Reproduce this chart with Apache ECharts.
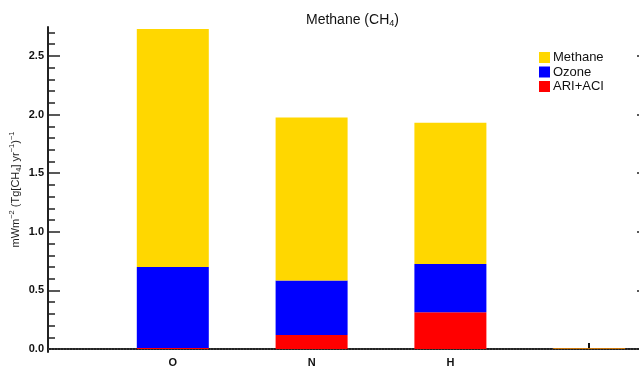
<!DOCTYPE html>
<html><head><meta charset="utf-8">
<script src="https://cdn.jsdelivr.net/npm/echarts@6/dist/echarts.min.js"></script>
<style>html,body{margin:0;padding:0;background:#fff}#c{width:639px;height:367px}</style>
</head><body><div id="c"></div>
<script>
const categories = ['O', 'N', 'H', ''];
const ariAci = [0.01, 0.12, 0.315, 0.005];
const ozone = [0.69, 0.465, 0.41, 0];
const methane = [2.03, 1.39, 1.205, 0.005];
const yMajorTicks = [0, 0.5, 1.0, 1.5, 2.0, 2.5];
const yMinorTicks = [0.1,0.2,0.3,0.4,0.6,0.7,0.8,0.9,1.1,1.2,1.3,1.4,1.6,1.7,1.8,1.9,2.1,2.2,2.3,2.4,2.6,2.7];
const zeroLevel = 0;

const chart = echarts.init(document.getElementById('c'), null, {renderer: 'canvas'});
const font = 'Liberation Sans, Arial, Helvetica, sans-serif';
const yMin = -0.025, yMax = 2.747;
const baseY = {type: 'value', min: yMin, max: yMax, splitLine: {show: false}};
chart.setOption({
  animation: false,
  title: {
    text: 'Methane (CH{sub|4})', left: 301, top: 8,
    textStyle: {fontFamily: font, fontSize: 14, fontWeight: 'normal', color: '#111',
      rich: {sub: {fontFamily: font, fontSize: 9, color: '#111', verticalAlign: 'bottom', padding: [6, 0, 0, 0]}}}
  },
  legend: {
    orient: 'vertical', left: 534, top: 46, itemWidth: 11, itemHeight: 11, itemGap: 1.5,
    icon: 'rect', data: ['Methane', 'Ozone', 'ARI+ACI'],
    textStyle: {fontFamily: font, fontSize: 13, color: '#111', lineHeight: 12, padding: [0, 0, 0, -2]}
  },
  grid: [
    {left: 48, right: -10, top: 27, bottom: 15, containLabel: false, outerBoundsMode: 'none'},
    {left: 103.4, width: 555.2, top: 27, bottom: 15, containLabel: false, outerBoundsMode: 'none'}
  ],
  xAxis: [{
    gridIndex: 0, type: 'value', min: 0, max: 1, position: 'bottom',
    splitLine: {show: false},
    axisLine: {show: true, lineStyle: {color: '#111', width: 2}},
    axisTick: {show: false}, axisLabel: {show: false}
  }, {
    gridIndex: 0, type: 'value', min: 0, max: 1, position: 'top',
    splitLine: {show: false},
    axisLine: {show: true, lineStyle: {color: '#222', width: 2}},
    axisTick: {show: false}, axisLabel: {show: false}
  }, {
    gridIndex: 1, type: 'category', data: categories, boundaryGap: true, position: 'bottom',
    axisLine: {show: false},
    axisTick: {show: true, inside: true, length: 6, alignWithLabel: true, interval: 0, lineStyle: {color: '#111', width: 2}},
    axisLabel: {show: true, interval: 0, margin: 5,
      fontFamily: font, fontSize: 11, fontWeight: 'bold', color: '#111'}
  }],
  yAxis: [Object.assign({}, baseY, {
    gridIndex: 0, position: 'left',
    name: '{n|mWm}{s|−2}{n| (Tg[CH}{b|4}{n|] yr}{s|−1}{n|)}{s|−1}',
    nameLocation: 'middle', nameGap: 25, nameRotate: 90, nameMoveOverlap: false,
    nameTextStyle: {fontFamily: font, fontSize: 11, color: '#222',
      rich: {
        n: {fontFamily: font, fontSize: 11, color: '#222', lineHeight: 15},
        s: {fontFamily: font, fontSize: 7.5, color: '#222', verticalAlign: 'top', lineHeight: 15, padding: [0, 0, 5, 0]},
        b: {fontFamily: font, fontSize: 7.5, color: '#222', verticalAlign: 'bottom', lineHeight: 15, padding: [4, 0, 0, 0]}
      }},
    axisLine: {show: true, lineStyle: {color: '#222', width: 2}},
    axisTick: {show: true, inside: true, length: 12, customValues: yMajorTicks, lineStyle: {color: '#222', width: 1.5}},
    axisLabel: {show: true, customValues: yMajorTicks, formatter: v => v.toFixed(1), margin: 4,
      fontFamily: font, fontSize: 11, fontWeight: 'bold', color: '#111'}
  }), Object.assign({}, baseY, {
    gridIndex: 0, position: 'left', offset: 0,
    axisLine: {show: false},
    axisTick: {show: true, inside: true, length: 7, customValues: yMinorTicks, lineStyle: {color: '#222', width: 1.5}},
    axisLabel: {show: false}
  }), Object.assign({}, baseY, {
    gridIndex: 0, position: 'right',
    axisLine: {show: true, lineStyle: {color: '#222', width: 2}},
    axisTick: {show: true, inside: true, length: 12, customValues: yMajorTicks, lineStyle: {color: '#222', width: 1.5}},
    axisLabel: {show: false}
  }), Object.assign({}, baseY, {
    gridIndex: 1, show: false
  })],
  series: [
    {name: 'ARI+ACI', type: 'bar', stack: 'a', barWidth: 72, xAxisIndex: 2, yAxisIndex: 3,
      data: ariAci, itemStyle: {color: '#FF0000'}},
    {name: 'Ozone', type: 'bar', stack: 'a', barWidth: 72, xAxisIndex: 2, yAxisIndex: 3,
      data: ozone, itemStyle: {color: '#0000FF'}},
    {name: 'Methane', type: 'bar', stack: 'a', barWidth: 72, xAxisIndex: 2, yAxisIndex: 3,
      data: methane, itemStyle: {color: '#FFD700'}},
    {name: 'zero', type: 'line', xAxisIndex: 0, yAxisIndex: 0, z: 1,
      data: [[0, zeroLevel], [1, zeroLevel]], symbol: 'none', silent: true,
      lineStyle: {color: '#555', width: 1, type: [1, 2]}}
  ]
});
</script></body></html>
